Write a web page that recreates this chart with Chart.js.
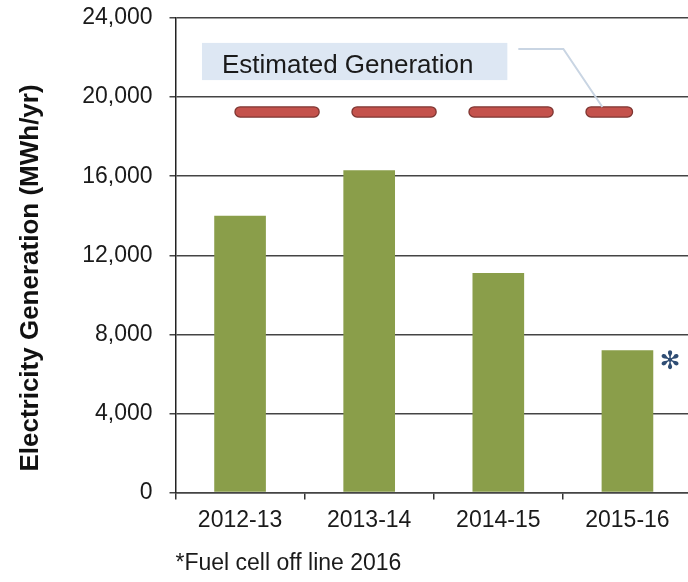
<!DOCTYPE html>
<html>
<head>
<meta charset="utf-8">
<script src="https://cdn.jsdelivr.net/npm/chart.js@4/dist/chart.umd.min.js"></script>
<style>
  html, body { margin: 0; padding: 0; background: #fff; overflow: hidden; }
  canvas { display: block; }
</style>
</head>
<body>
<canvas id="chart" width="692" height="582"></canvas>
<script>
const years = ['2012-13', '2013-14', '2014-15', '2015-16'];
const generation = [14000, 16300, 11100, 7200];
const estimated = [19250, 19250, 19250, 19250];
const yTicks = [0, 4000, 8000, 12000, 16000, 20000, 24000];

const yTitle = 'Electricity Generation (MWh/yr)';
const estLabel = 'Estimated Generation';
const footnote = '*Fuel cell off line 2016';

const FONT = '"Liberation Sans", Arial, sans-serif';

// callout box, label, leader line and the asterisk next to the last bar
const extras = {
  id: 'extras',
  afterDraw(chart) {
    const { ctx, scales: { x, y } } = chart;
    ctx.save();

    // y axis title (sits a bit below the plot centre in the original)
    ctx.save();
    ctx.translate(38, 278);
    ctx.rotate(-Math.PI / 2);
    ctx.font = 'bold 26px ' + FONT;
    ctx.fillStyle = '#111';
    ctx.textAlign = 'center';
    ctx.textBaseline = 'alphabetic';
    ctx.fillText(yTitle, 0, 0);
    ctx.restore();

    // "Estimated Generation" box
    const bx0 = x.getPixelForValue(-0.295), bx1 = x.getPixelForValue(2.07);
    const by0 = y.getPixelForValue(22740), by1 = y.getPixelForValue(20860);
    ctx.fillStyle = '#dde7f3';
    ctx.fillRect(bx0, by0, bx1 - bx0, by1 - by0);
    ctx.font = '26px ' + FONT;
    ctx.fillStyle = '#1a1a1a';
    ctx.textAlign = 'left';
    ctx.textBaseline = 'alphabetic';
    ctx.fillText(estLabel, x.getPixelForValue(-0.14), y.getPixelForValue(21233));

    // leader line to the last dash
    ctx.strokeStyle = '#c9d5e3';
    ctx.lineWidth = 2;
    ctx.beginPath();
    ctx.moveTo(x.getPixelForValue(2.155), y.getPixelForValue(22432));
    ctx.lineTo(x.getPixelForValue(2.504), y.getPixelForValue(22432));
    ctx.lineTo(x.getPixelForValue(2.806), y.getPixelForValue(19498));
    ctx.stroke();

    // asterisk beside the 2015-16 bar
    const bar = chart.getDatasetMeta(2).data[3];
    ctx.font = '25px "DejaVu Sans", sans-serif';
    ctx.fillStyle = '#2f4d74';
    ctx.textAlign = 'center';
    const m = ctx.measureText('\u273B');
    const cx = bar.x + bar.width / 2 + 17;
    const cy = bar.y + 10;
    ctx.fillText('\u273B', cx, cy + (m.actualBoundingBoxAscent - m.actualBoundingBoxDescent) / 2);

    ctx.restore();
  }
};

new Chart(document.getElementById('chart'), {
  data: {
    labels: years,
    datasets: [
      {
        type: 'line',
        data: estimated,
        borderColor: '#c4524c',
        borderWidth: 9,
        borderDash: [74, 43],
        borderCapStyle: 'round',
        pointRadius: 0,
        order: 0,
      },
      {
        type: 'line',
        data: estimated,
        borderColor: '#7d3531',
        borderWidth: 11.5,
        borderDash: [74, 43],
        borderCapStyle: 'round',
        pointRadius: 0,
        order: 1,
      },
      {
        type: 'bar',
        data: generation,
        backgroundColor: '#8a9e4a',
        barPercentage: 0.4,
        categoryPercentage: 1.0,
        order: 2,
      },
    ],
  },
  options: {
    responsive: false,
    animation: false,
    events: [],
    layout: { padding: { top: 18, right: 0, left: 0, bottom: 0 } },
    plugins: {
      legend: { display: false },
      tooltip: { enabled: false },
    },
    scales: {
      x: {
        offset: true,
        grid: { drawOnChartArea: false, drawTicks: true, tickLength: 7, color: '#333', lineWidth: 1.5, offset: true },
        border: { color: '#444', width: 1.5 },
        ticks: { color: '#1a1a1a', padding: 7, font: { family: FONT, size: 23 } },
        title: {
          display: true,
          text: footnote,
          align: 'start',
          color: '#1a1a1a',
          font: { family: FONT, size: 23 },
          padding: { top: 0, bottom: 5 },
        },
        afterFit: s => { s.height = 89.5; },
      },
      y: {
        min: yTicks[0],
        max: yTicks[yTicks.length - 1],
        afterBuildTicks: s => { s.ticks = yTicks.map(v => ({ value: v })); },
        grid: { color: '#444', lineWidth: 1.5, tickLength: 6 },
        border: { color: '#222', width: 1.5 },
        ticks: {
          color: '#1a1a1a',
          padding: 17,
          font: { family: FONT, size: 23 },
          callback: v => v.toLocaleString('en-US'),
        },
        afterFit: s => { s.width = 175.5; s.paddingTop = 0; s.paddingBottom = 0; },
      },
    },
  },
  plugins: [extras],
});
</script>
</body>
</html>
